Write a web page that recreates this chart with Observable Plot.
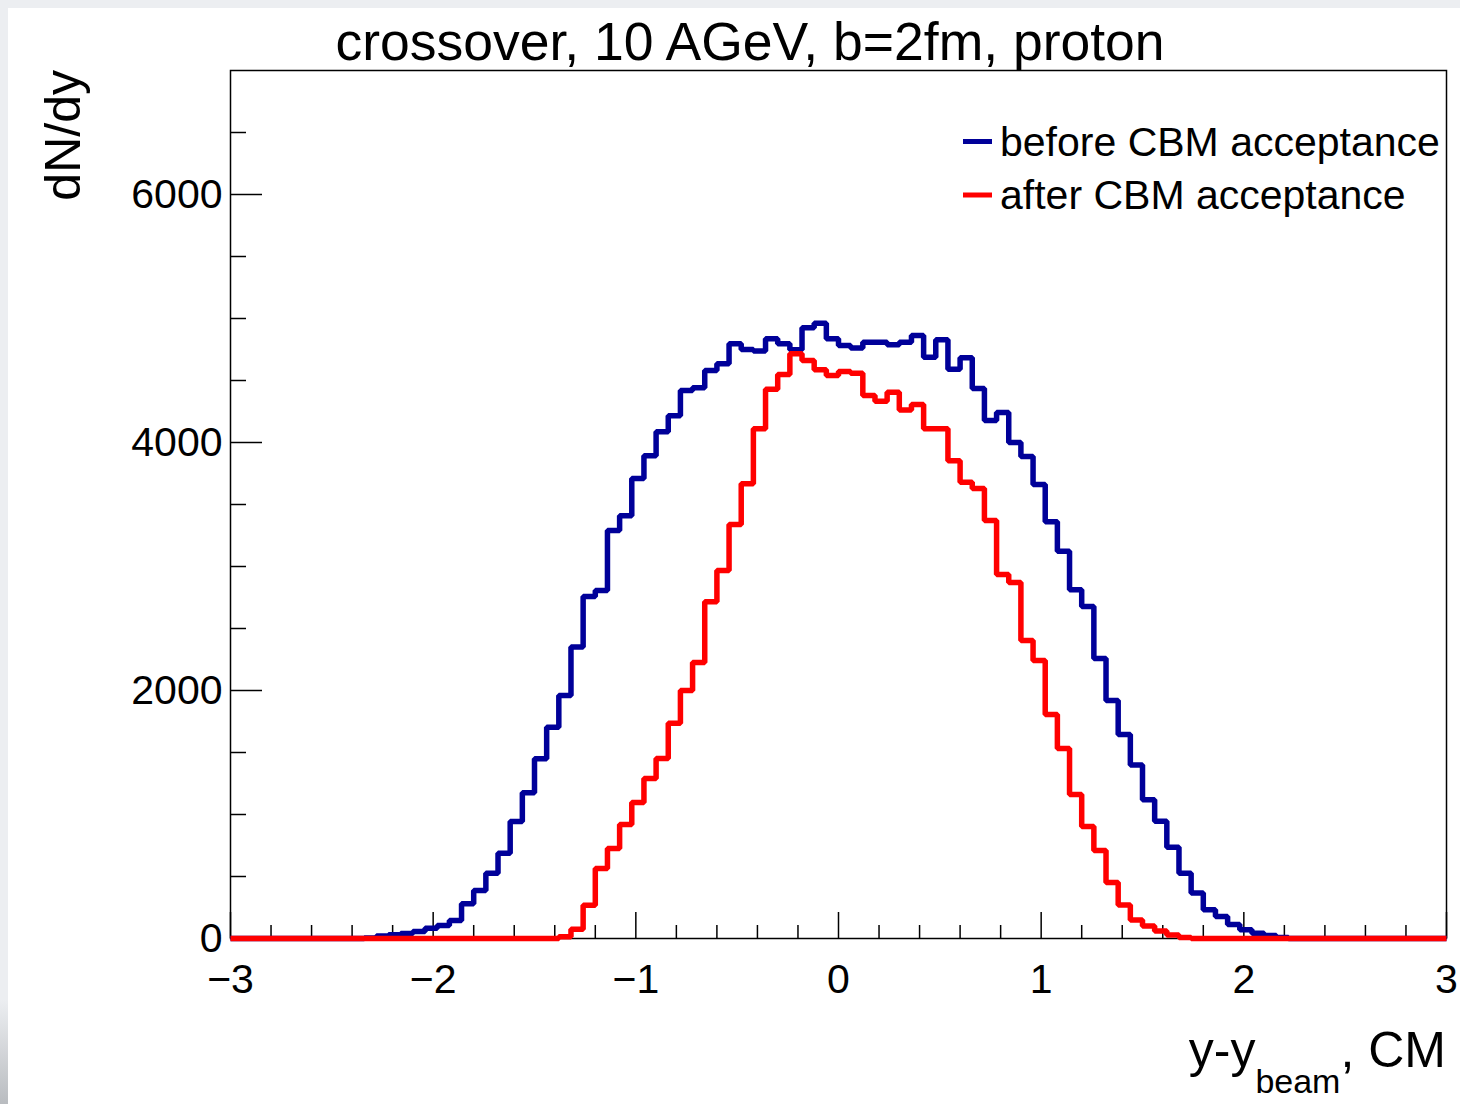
<!DOCTYPE html>
<html>
<head>
<meta charset="utf-8">
<script src="https://cdn.jsdelivr.net/npm/d3@7"></script>
<script src="https://cdn.jsdelivr.net/npm/@observablehq/plot@0.6"></script>
<style>
  html, body { margin: 0; padding: 0; background: #eceef1; }
  #wrap { position: relative; width: 1460px; height: 1104px; overflow: hidden; font-family: "Liberation Sans", Arial, sans-serif; }
  #panel { position: absolute; left: 8px; top: 8px; width: 1452px; height: 1096px; background: #ffffff; }
  #shade { position: absolute; left: 0; top: 1000px; width: 8px; height: 104px; background: linear-gradient(#eceef1, #b9bcc0); }
  #chart, #overlay { position: absolute; left: 0; top: 0; }
</style>
</head>
<body>
<div id="wrap">
  <div id="panel"></div>
  <div id="shade"></div>
  <div id="chart"></div>
  <div id="overlay"></div>
</div>
<script>
// ---- data -------------------------------------------------------------
const titleText = "crossover, 10 AGeV, b=2fm, proton";
const yTitle = "dN/dy";
const xTitleMain = "y-y", xTitleSub = "beam", xTitleTail = ", CM";
const seriesNames = ["before CBM acceptance", "after CBM acceptance"];
const seriesColors = ["#000099", "#ff0000"];

const xMin = -3, xMax = 3, nBins = 100;
const yDomain = [0, 7000];

const before = [
  0,0,0,0,0,0,0,0,0,0,0,
  5,20,30,40,56,83,105,145,280,387,
  527,688,944,1175,1449,1704,1960,2350,2758,2806,
  3290,3410,3710,3893,4087,4216,4419,4442,4581,4636,
  4797,4751,4737,4837,4796,4747,4925,4962,4836,4782,
  4763,4809,4809,4788,4809,4863,4688,4828,4590,4684,
  4435,4177,4242,4000,3887,3661,3361,3123,2813,2677,
  2258,1919,1645,1400,1118,946,736,527,366,231,
  177,113,70,43,25,8,
  0,0,0,0,0,0,0,0,0,0,0,0,0
];
const after = [
  0,0,0,0,0,0,0,0,0,0,0,0,0,0,0,0,0,0,0,0,0,0,0,0,0,0,0,
  15,75,268,565,726,919,1097,1290,1452,1736,
  2000,2226,2716,2968,3339,3668,4110,4430,4548,4715,
  4661,4586,4540,4573,4559,4379,4333,4406,4263,4306,
  4110,4110,3852,3680,3630,3371,2935,2871,2403,2242,
  1806,1532,1161,903,710,452,270,150,100,60,
  28,8,
  0,0,0,0,0,0,0,0,0,0,0,0,0,0,0,0,0,0,0,0,0
];

const xMajor = [-3, -2, -1, 0, 1, 2, 3];
const xMinor = [-2.8,-2.6,-2.4,-2.2,-1.8,-1.6,-1.4,-1.2,-0.8,-0.6,-0.4,-0.2,
                0.2,0.4,0.6,0.8,1.2,1.4,1.6,1.8,2.2,2.4,2.6,2.8];
const yMajor = [0, 2000, 4000, 6000];
const yMinor = [500, 1000, 1500, 2500, 3000, 3500, 4500, 5000, 5500, 6500];

// ---- build step tables from the bin arrays ----------------------------
const binWidth = (xMax - xMin) / nBins;
function steps(values) {
  const out = [];
  for (let k = 0; k <= values.length; k++) {
    out.push({x: xMin + k * binWidth, y: values[Math.min(k, values.length - 1)]});
  }
  return out;
}
const beforeSteps = steps(before);
const afterSteps = steps(after);

// ---- chart ------------------------------------------------------------
const W = 1460, H = 1104;
const fmt = d3.format("d");
const chart = Plot.plot({
  width: W,
  height: H,
  marginLeft: 230,
  marginRight: 14,
  marginTop: 70,
  marginBottom: 166,
  style: {background: "transparent", fontFamily: "Liberation Sans, Arial, sans-serif", fontSize: "41px", color: "#000"},
  x: {domain: [xMin, xMax]},
  y: {domain: yDomain},
  marks: [
    Plot.frame({stroke: "#000", strokeWidth: 1.5}),
    Plot.axisX({ticks: xMajor, tickSize: 0, tickPadding: 25, tickFormat: fmt, fontSize: 41, label: null}),
    Plot.axisY({ticks: yMajor, tickSize: 0, tickPadding: 8, tickFormat: fmt, fontSize: 41, label: null}),
    Plot.ruleX(xMajor, {x: d => d, y1: () => yDomain[0], y2: () => yDomain[0], insetTop: -26, stroke: "#000", strokeWidth: 1.5}),
    Plot.ruleX(xMinor, {x: d => d, y1: () => yDomain[0], y2: () => yDomain[0], insetTop: -13, stroke: "#000", strokeWidth: 1.5}),
    Plot.ruleY(yMajor, {y: d => d, x1: () => xMin, x2: () => xMin, insetRight: -32, stroke: "#000", strokeWidth: 1.5}),
    Plot.ruleY(yMinor, {y: d => d, x1: () => xMin, x2: () => xMin, insetRight: -16, stroke: "#000", strokeWidth: 1.5}),
    Plot.line(beforeSteps, {x: "x", y: "y", curve: "step-after", stroke: seriesColors[0], strokeWidth: 5.5, strokeLinejoin: "miter", strokeLinecap: "butt"}),
    Plot.line(afterSteps, {x: "x", y: "y", curve: "step-after", stroke: seriesColors[1], strokeWidth: 5.5, strokeLinejoin: "miter", strokeLinecap: "butt"})
  ]
});
document.getElementById("chart").appendChild(chart);

// ---- text overlay: title, axis titles, legend ------------------------
const ov = d3.select("#overlay").append("svg")
  .attr("width", W).attr("height", H)
  .style("font-family", "Liberation Sans, Arial, sans-serif");

ov.append("text").attr("x", 750).attr("y", 60).attr("text-anchor", "middle")
  .attr("font-size", 53.5).text(titleText);

ov.append("text").attr("transform", "translate(80,70) rotate(-90)")
  .attr("text-anchor", "end").attr("font-size", 50).text(yTitle);

const xt = ov.append("text").attr("x", 1446).attr("y", 1067).attr("text-anchor", "end").attr("font-size", 50);
xt.append("tspan").text(xTitleMain);
xt.append("tspan").attr("dy", 26).attr("font-size", 34).text(xTitleSub);
xt.append("tspan").attr("dy", -26).text(xTitleTail);

const legRows = [141.5, 195];
seriesNames.forEach((name, i) => {
  ov.append("line").attr("x1", 963).attr("x2", 992).attr("y1", legRows[i]).attr("y2", legRows[i])
    .attr("stroke", seriesColors[i]).attr("stroke-width", 5);
  ov.append("text").attr("x", 1000).attr("y", legRows[i] + 14).attr("font-size", 41).text(name);
});
</script>
</body>
</html>
